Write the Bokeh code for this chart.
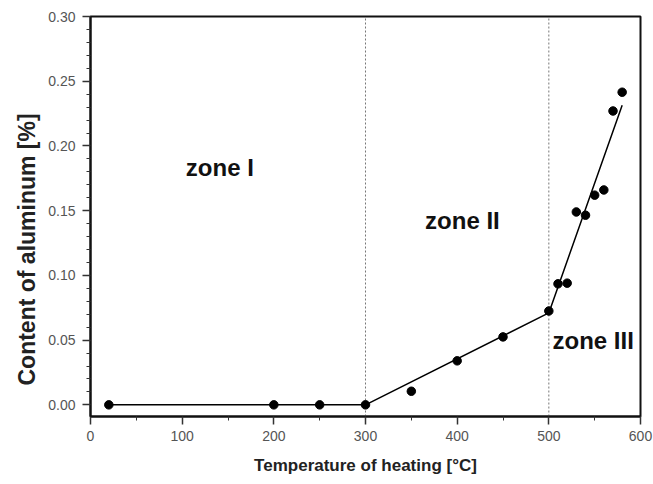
from bokeh.plotting import figure
from bokeh.models import Range1d, FixedTicker, PrintfTickFormatter, Label, Title
from bokeh.embed import file_html
from bokeh.resources import INLINE

# Data
temp = [20, 200, 250, 300, 350, 400, 450, 500, 510, 520, 530, 540, 550, 560, 570, 580]
alum = [0.0, 0.0, 0.0, 0.0, 0.0105, 0.034, 0.0525, 0.0725, 0.0935, 0.094, 0.149, 0.1465,
        0.162, 0.166, 0.227, 0.2415]
fit_temp = [20, 300, 500, 580]
fit_alum = [0.0, 0.0, 0.071, 0.2315]
zone_bounds = [300, 500]
zone_names = ["zone I", "zone II", "zone III"]
zone_x = [104, 365, 504]
zone_y = [0.1835, 0.1425, 0.050]
x_ticks = [0, 100, 200, 300, 400, 500, 600]
x_minor = [50, 150, 250, 350, 450, 550]
y_ticks = [0.00, 0.05, 0.10, 0.15, 0.20, 0.25, 0.30]
y_minor = [round(i * 0.01, 2) for i in range(0, 31) if i % 5 != 0]
x_title = "Temperature of heating [\u00b0C]"
y_title = "Content of aluminum [%]"

FONT = "Liberation Sans"

p = figure(width=653, height=484, output_backend="svg", toolbar_location=None,
           x_range=Range1d(0, 600), y_range=Range1d(-0.009, 0.30),
           min_border_left=90, min_border_right=13, min_border_top=16, min_border_bottom=68)
p.background_fill_color = "white"
p.border_fill_color = "white"
p.grid.visible = False
p.outline_line_color = "#111111"
p.outline_line_width = 2
p.outline_line_alpha = 1.0

p.xaxis.ticker = FixedTicker(ticks=x_ticks, minor_ticks=x_minor)
p.yaxis.ticker = FixedTicker(ticks=y_ticks, minor_ticks=y_minor)
p.yaxis.formatter = PrintfTickFormatter(format="%.2f")

for ax in (p.xaxis, p.yaxis):
    ax.axis_line_color = "#111111"
    ax.axis_line_width = 2
    ax.major_tick_line_color = "#333333"
    ax.minor_tick_line_color = "#333333"
    ax.major_tick_line_width = 1.5
    ax.minor_tick_line_width = 1
    ax.major_tick_out = 8
    ax.major_tick_in = 0
    ax.minor_tick_out = 4
    ax.minor_tick_in = 0
    ax.major_label_text_font = FONT
    ax.major_label_text_font_size = "14px"
    ax.major_label_text_color = "#555555"
    ax.axis_label_text_font = FONT
    ax.axis_label_text_font_style = "bold"
    ax.axis_label_text_color = "#222222"

p.xaxis.major_label_standoff = 6
p.yaxis.major_label_standoff = 7
p.xaxis.axis_label = x_title
p.xaxis.axis_label_text_font_size = "17px"
p.xaxis.axis_label_standoff = 12

# y title as a side title, anchored near the bottom of the frame (as in the reference)
p.add_layout(Title(text=y_title, align="left", offset=31, standoff=12, text_font=FONT,
                   text_font_size="23px", text_font_style="bold", text_color="#222222"), "left")

# zone boundaries (dotted)
p.segment(x0=zone_bounds, x1=zone_bounds, y0=[-0.009] * len(zone_bounds), y1=[0.30] * len(zone_bounds),
          line_color="#777777", line_width=1, line_dash="2 2")

# fitted piecewise line
p.line(fit_temp, fit_alum, line_color="black", line_width=1.5)

# measured points
p.scatter(temp, alum, size=8.5, fill_color="black", line_color="black")

for name, zx, zy in zip(zone_names, zone_x, zone_y):
    p.add_layout(Label(x=zx, y=zy, text=name, text_font=FONT, text_font_size="24px",
                       text_font_style="bold", text_color="#111111", text_baseline="alphabetic"))

open("out.html", "w").write(file_html(p, INLINE))
